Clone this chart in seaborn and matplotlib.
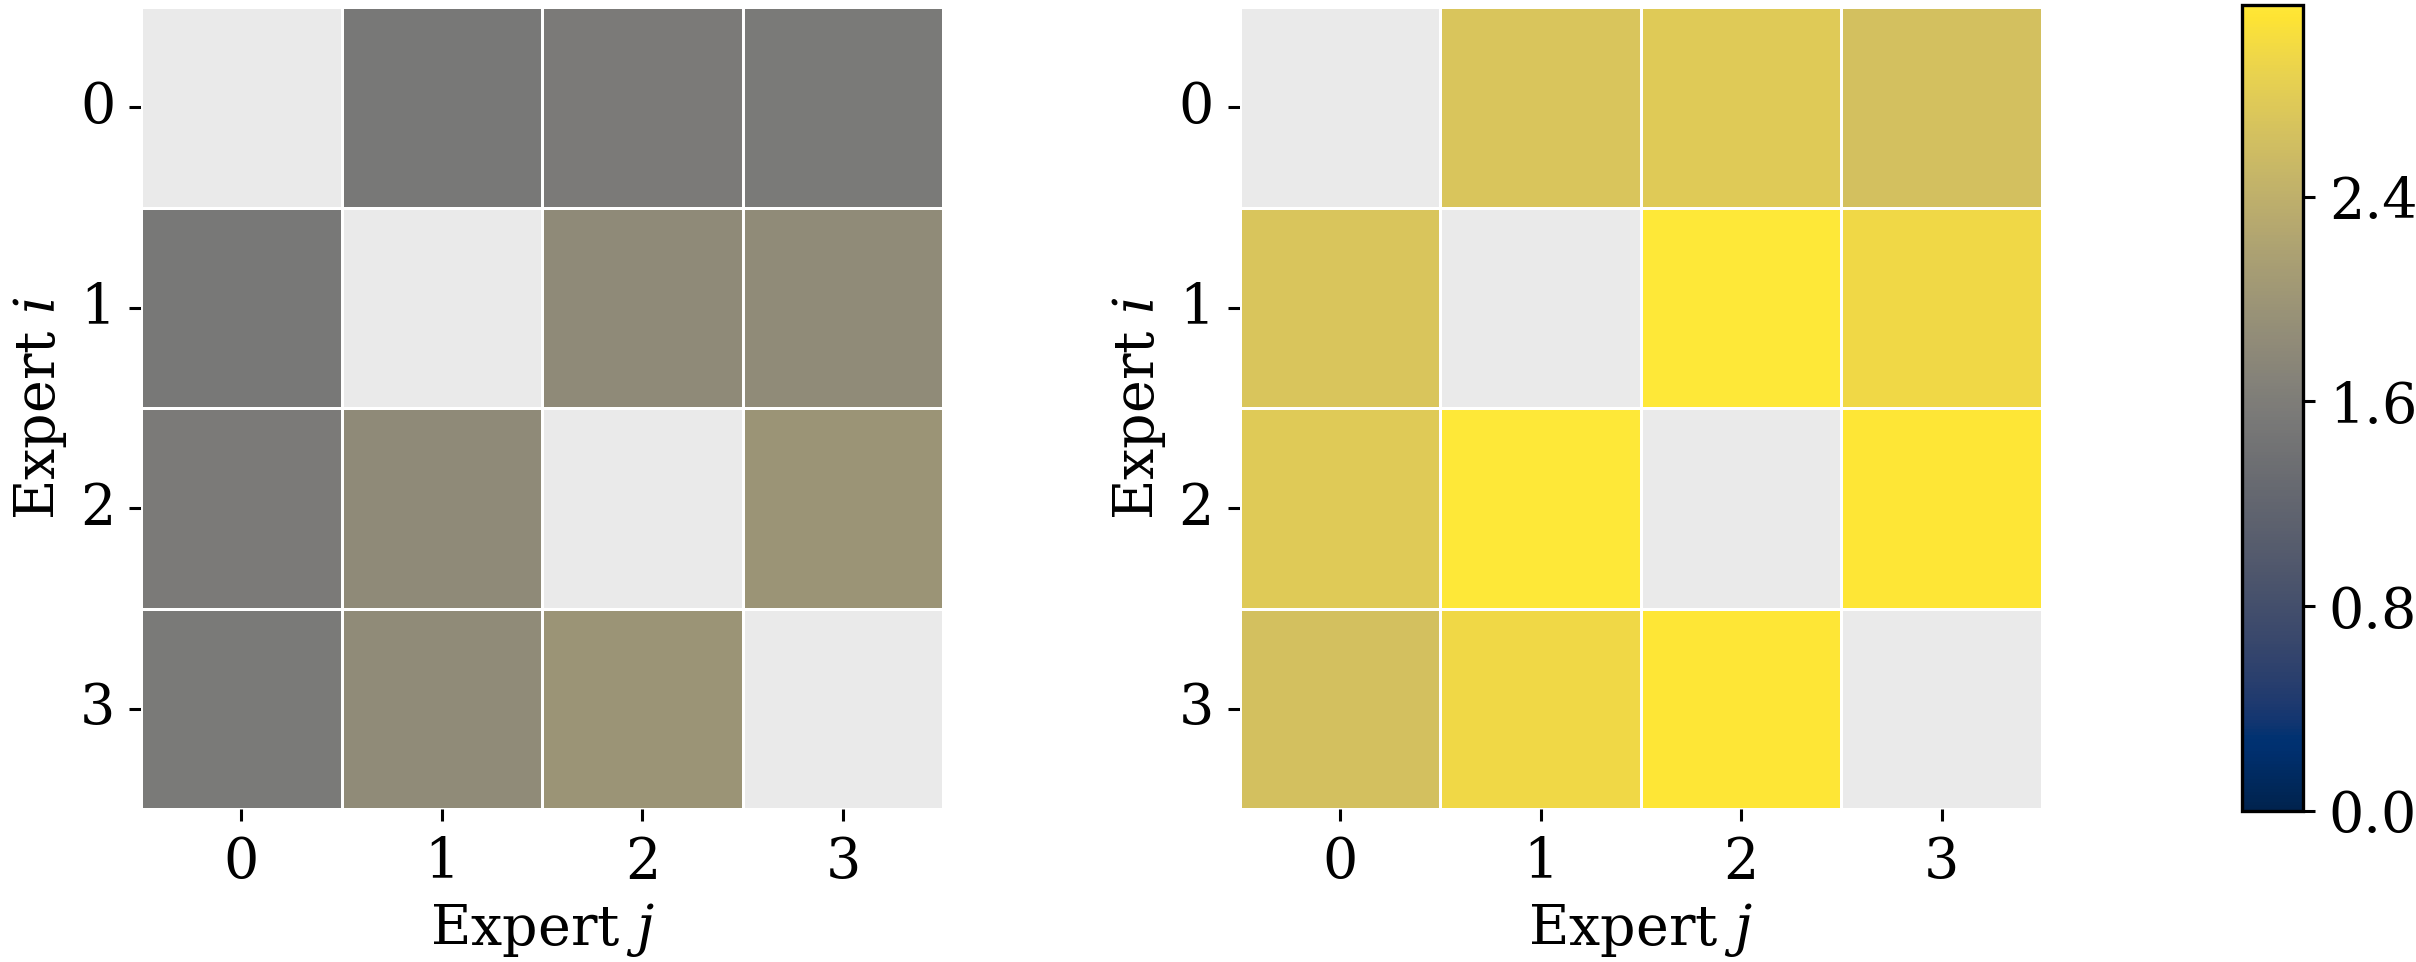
import numpy as np
import pandas as pd
import matplotlib
matplotlib.use("Agg")
import matplotlib.pyplot as plt
import seaborn as sns

# Expert-pair values (diagonal is empty)
experts = [0, 1, 2, 3]
left_values = [
    [np.nan, 1.52, 1.56, 1.55],
    [1.52, np.nan, 1.82, 1.83],
    [1.56, 1.82, np.nan, 1.98],
    [1.55, 1.83, 1.98, np.nan],
]
right_values = [
    [np.nan, 2.70, 2.78, 2.64],
    [2.70, np.nan, 3.15, 2.96],
    [2.78, 3.15, np.nan, 3.13],
    [2.64, 2.96, 3.13, np.nan],
]
cbar_ticks = [0.0, 0.8, 1.6, 2.4]
vmin, vmax = 0.0, 3.15

sns.set_style("ticks")
plt.rcParams['font.family'] = ['DejaVu Serif']
plt.rcParams['mathtext.fontset'] = 'dejavuserif'
plt.rcParams['font.size'] = 20
plt.rcParams['text.color'] = 'black'
plt.rcParams['axes.labelcolor'] = 'black'
plt.rcParams['xtick.color'] = 'black'
plt.rcParams['ytick.color'] = 'black'
plt.rcParams['axes.linewidth'] = 1.2
plt.rcParams['xtick.major.size'] = 4.3
plt.rcParams['ytick.major.size'] = 4.3
plt.rcParams['xtick.major.width'] = 1.1
plt.rcParams['ytick.major.width'] = 1.1
plt.rcParams['xtick.major.pad'] = 5
plt.rcParams['ytick.major.pad'] = 5

left_df = pd.DataFrame(left_values, index=experts, columns=experts)
right_df = pd.DataFrame(right_values, index=experts, columns=experts)

fig = plt.figure(figsize=(12.08, 4.8101), dpi=200)
ax1 = fig.add_axes([0.0584, 0.159, 0.332, 0.8337])
ax2 = fig.add_axes([0.5132, 0.159, 0.332, 0.8337])
cax = fig.add_axes([0.928, 0.157, 0.0252, 0.838])

for ax in (ax1, ax2):
    ax.set_facecolor('#eaeaea')

sns.heatmap(left_df, ax=ax1, cmap='cividis', vmin=vmin, vmax=vmax,
            linewidths=1, linecolor='white', cbar=False)
sns.heatmap(right_df, ax=ax2, cmap='cividis', vmin=vmin, vmax=vmax,
            linewidths=1, linecolor='white', cbar=True, cbar_ax=cax,
            cbar_kws={'ticks': cbar_ticks, 'format': '%.1f'})

for ax in (ax1, ax2):
    ax.set_xlabel('Expert $j$')
    ax.set_ylabel('Expert $i$')
    ax.tick_params(axis='y', rotation=0)

cb = ax2.collections[0].colorbar
cb.outline.set_edgecolor('black')
cb.outline.set_linewidth(1.2)
cb.ax.tick_params(length=4.3, width=1.1, labelsize=20, colors='black')

fig.savefig('out.png', dpi=200)
